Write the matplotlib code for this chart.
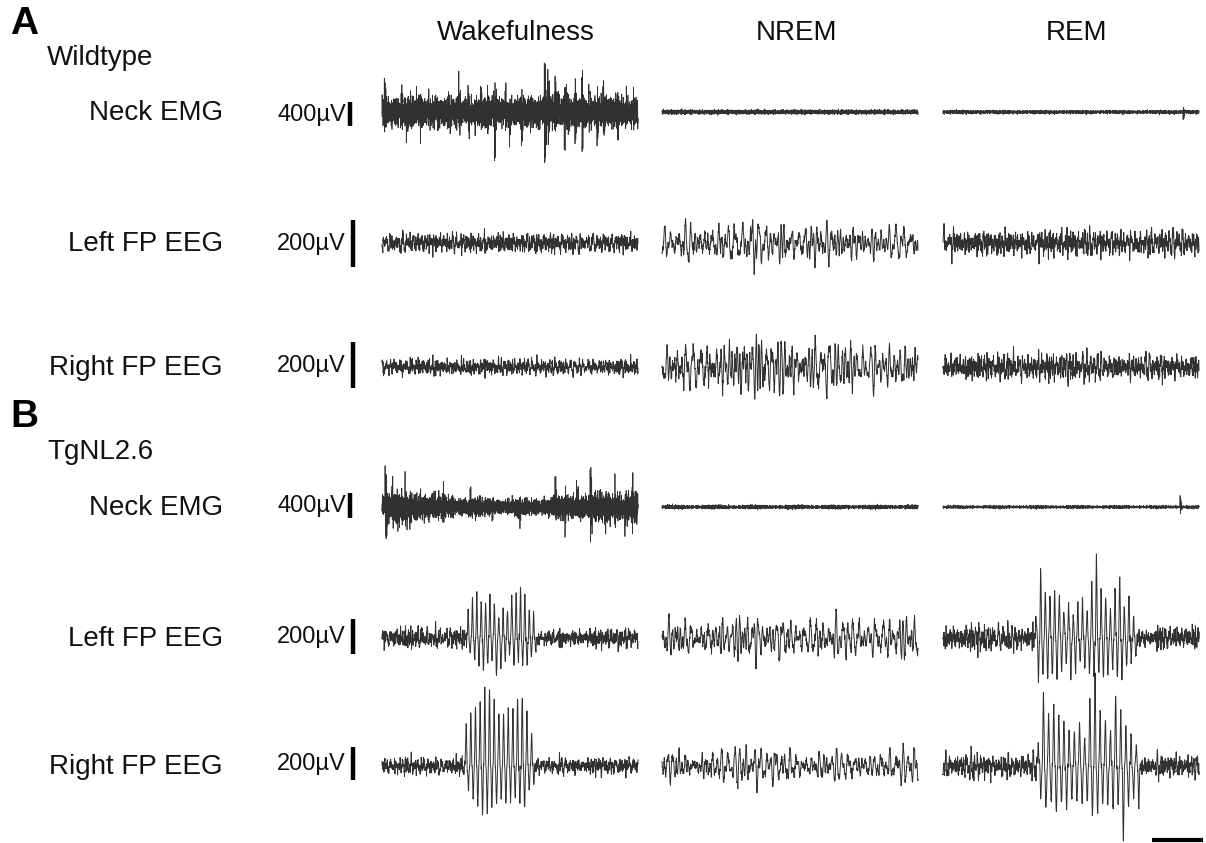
import numpy as np
import matplotlib.pyplot as plt

plt.rcParams['font.family'] = ['Liberation Sans', 'DejaVu Sans']

# ---------------------------------------------------------------
# labels
# ---------------------------------------------------------------
panels = ['A', 'B']
groups = ['Wildtype', 'TgNL2.6']
states = ['Wakefulness', 'NREM', 'REM']
channels = ['Neck EMG', 'Left FP EEG', 'Right FP EEG']
scale_uv = [400, 200, 200]

# px per µV of each row (scale bars are not the same size in A and B)
gain_a = [0.060, 0.235, 0.230]
gain_b = [0.0625, 0.175, 0.165]

trace_sec = 10.0
time_bar_sec = 2.0

# ---------------------------------------------------------------
# peak amplitude envelopes (µV), 10 knots along each 10 s trace
# ---------------------------------------------------------------
a_emg_wake = [360, 370, 340, 350, 340, 360, 390, 370, 360, 360]
a_emg_nrem = [55, 55, 55, 55, 55, 55, 55, 55, 55, 55]
a_emg_rem = [55, 55, 52, 52, 50, 50, 50, 50, 52, 55]
a_left_wake = [60, 62, 60, 65, 62, 60, 65, 60, 60, 62]
a_left_nrem = [105, 110, 120, 135, 130, 115, 105, 100, 100, 105]
a_left_rem = [90, 88, 85, 90, 88, 85, 88, 90, 88, 90]
a_right_wake = [55, 58, 55, 58, 55, 55, 58, 55, 55, 55]
a_right_nrem = [130, 140, 165, 185, 180, 150, 135, 130, 130, 130]
a_right_rem = [90, 90, 88, 90, 90, 88, 90, 90, 88, 90]

b_emg_wake = [360, 340, 280, 230, 200, 200, 240, 320, 350, 370]
b_emg_nrem = [50, 50, 50, 50, 50, 50, 50, 50, 50, 50]
b_emg_rem = [38, 38, 38, 38, 38, 38, 38, 38, 38, 38]
b_left_wake = [100, 100, 95, 95, 95, 95, 95, 95, 100, 100]
b_left_nrem = [180, 195, 185, 175, 175, 185, 175, 175, 180, 190]
b_left_rem = [120, 115, 115, 110, 110, 110, 110, 115, 115, 120]
b_right_wake = [85, 85, 85, 85, 85, 85, 85, 85, 85, 85]
b_right_nrem = [160, 180, 170, 160, 170, 160, 160, 155, 155, 165]
b_right_rem = [125, 120, 120, 120, 115, 115, 120, 120, 120, 125]

# isolated EMG spikes: time (s), amplitude (µV, + = up)
a_emg_wake_spk_t = [0.09, 0.44, 0.44, 0.78, 0.95, 1.34, 1.50, 1.83, 2.10, 2.66, 2.66,
                    3.00, 3.36, 3.64, 3.64, 3.84, 4.12, 4.33, 4.40, 4.81, 4.98, 5.30,
                    5.45, 6.34, 6.36, 6.48, 6.76, 7.12, 7.18, 7.52, 7.54, 7.80, 7.82,
                    8.08, 8.40, 8.63, 9.12, 9.20, 9.54, 9.82, 9.85]
a_emg_wake_spk_uv = [630, 690, -630, 370, -490, 370, -520, 350, 260, 370, -610,
                     580, 430, 490, -750, 430, 370, 290, -780, 370, -490, 320,
                     -460, 780, -920, 780, 660, -610, 580, 400, -550, 660, -630,
                     490, -520, 490, 430, -430, 370, 520, -320]
a_emg_rem_spk_t = [9.38]
a_emg_rem_spk_uv = [-135]
b_emg_wake_spk_t = [0.12, 0.16, 0.39, 0.62, 0.90, 1.09, 1.48, 2.40, 3.44, 4.30, 5.39,
                    6.76, 7.15, 7.60, 8.13, 8.71, 9.10, 9.49, 9.77]
b_emg_wake_spk_uv = [640, -530, 400, -450, 420, -420, 350, 260, 290, -280, -320,
                     600, -400, 380, 650, -450, 400, -480, 450]
b_emg_rem_spk_t = [9.26]
b_emg_rem_spk_uv = [170]

# spike-wave bursts in TgNL2.6 EEG: start/end (s), per-cycle peaks (µV)
b_left_wake_burst = (3.32, 6.05)
b_left_wake_up = [160, 245, 240, 215, 200, 275, 190, 115, 160, 160, 255, 270, 285, 255, 160, 145]
b_left_wake_dn = [105, 125, 145, 180, 160, 125, 215, 180, 125, 85, 145, 125, 145, 160, 105, 85]
b_right_wake_burst = (3.24, 5.98)
b_right_wake_up = [250, 330, 350, 395, 480, 470, 410, 330, 300, 350, 350, 410, 410, 330, 200]
b_right_wake_dn = [150, 195, 230, 290, 300, 275, 230, 195, 230, 210, 195, 230, 250, 150, 100]
b_left_rem_burst = (3.59, 7.58)
b_left_rem_up = [115, 370, 270, 245, 245, 230, 155, 190, 115, 210, 215, 160, 315, 470, 255,
                 240, 145, 275, 330, 170, 245, 115]
b_left_rem_dn = [215, 215, 215, 215, 215, 170, 145, 215, 170, 145, 170, 215, 215, 215, 215,
                 215, 170, 215, 215, 170, 145, 115]
b_right_rem_burst = (3.67, 7.70)
b_right_rem_up = [135, 425, 315, 375, 290, 275, 230, 200, 255, 150, 410, 515, 315, 275, 230,
                  425, 315, 210, 180, 135]
b_right_rem_dn = [180, 275, 210, 290, 230, 275, 210, 210, 230, 210, 290, 275, 230, 230, 275,
                  230, 435, 255, 210, 255]

# shape of one EMG discharge (relative amplitude of successive half-waves)
emg_unit = [1.0, -0.55, 0.75, -0.35, 0.45, -0.2]


def carrier(n, f_lo, f_hi, shift, k=90):
    # deterministic broadband texture (Weyl-sequence phases)
    t = np.linspace(0, 1, n)
    kk = np.arange(k) + 7 * shift
    fr = np.linspace(f_lo, f_hi, k) + ((kk * 0.41421356) % 1) * (f_hi - f_lo) / k
    ph = 2 * np.pi * ((kk ** 3 * 0.7548776662 + kk ** 2 * 0.5698402910 + shift * 0.2360679) % 1)
    amp = 1 / np.sqrt(fr)
    return (amp[:, None] * np.sin(2 * np.pi * fr[:, None] * t[None, :] + ph[:, None])).sum(0)


def texture(n, bands, shift):
    s = np.zeros(n)
    for j, (lo, hi, w) in enumerate(bands):
        c = carrier(n, lo, hi, shift + j * 5)
        s += w * c / c.std()
    return s / np.abs(s).max()


def make_trace(env, n, bands, shift, spk_t=(), spk_uv=(), burst=None, ups=None, dns=None):
    t = np.linspace(0, trace_sec, n)
    knots = np.linspace(0, trace_sec, len(env))
    sig = texture(n, bands, shift) * np.interp(t, knots, env)
    dt = t[1] - t[0]
    for ts, a in zip(spk_t, spk_uv):
        i0 = int(round(ts / dt))
        for j, rel in enumerate(emg_unit):
            i = i0 + j * 9
            for k in range(-3, 4):
                if 0 <= i + k < n:
                    sig[i + k] += a * rel * (1 - abs(k) / 4)
    if burst is not None:
        t0, t1 = burst
        m = (t >= t0) & (t < t1)
        ph = (t[m] - t0) / (t1 - t0) * len(ups)
        idx = np.minimum(ph.astype(int), len(ups) - 1)
        w = np.sin(2 * np.pi * (ph - idx))
        spike = np.abs(w) ** 2.2
        sig[m] = sig[m] * 0.5 + np.where(w > 0, spike * np.array(ups)[idx], -spike * np.array(dns)[idx])
    return t, sig


fig = plt.figure(figsize=(12.06, 8.43), dpi=100)
ax = fig.add_axes([0, 0, 1, 1])
ax.set_xlim(0, 1206)
ax.set_ylim(843, 0)
ax.axis('off')

col_x0 = [382, 662, 943]
col_w = 256
row_y = [[112, 243, 367], [507, 638, 766]]
bar_y = [[114, 243, 365], [505, 636, 763]]
bar_x = [350, 353, 353]

# frequency bands (cycles per trace, weight)
emg_bands = [(150, 1500, 1.0)]
eeg_bands = [
    [(40, 300, 1.0), (300, 800, 0.45)],    # wake
    [(30, 110, 1.0), (150, 600, 0.22)],    # NREM
    [(45, 260, 1.0), (260, 800, 0.40)],    # REM
]

data = [
    [[a_emg_wake, a_emg_nrem, a_emg_rem],
     [a_left_wake, a_left_nrem, a_left_rem],
     [a_right_wake, a_right_nrem, a_right_rem]],
    [[b_emg_wake, b_emg_nrem, b_emg_rem],
     [b_left_wake, b_left_nrem, b_left_rem],
     [b_right_wake, b_right_nrem, b_right_rem]],
]
spikes = {(0, 0): (a_emg_wake_spk_t, a_emg_wake_spk_uv),
          (0, 2): (a_emg_rem_spk_t, a_emg_rem_spk_uv),
          (1, 0): (b_emg_wake_spk_t, b_emg_wake_spk_uv),
          (1, 2): (b_emg_rem_spk_t, b_emg_rem_spk_uv)}
bursts = {(1, 1, 0): (b_left_wake_burst, b_left_wake_up, b_left_wake_dn),
          (1, 2, 0): (b_right_wake_burst, b_right_wake_up, b_right_wake_dn),
          (1, 1, 2): (b_left_rem_burst, b_left_rem_up, b_left_rem_dn),
          (1, 2, 2): (b_right_rem_burst, b_right_rem_up, b_right_rem_dn)}

for p, gains in enumerate([gain_a, gain_b]):
    for r in range(3):
        for c in range(3):
            env = data[p][r][c]
            shift = p * 9 + r * 3 + c + 1
            if r == 0:
                st, su = spikes.get((p, c), ((), ()))
                t, sig = make_trace(env, 6000, emg_bands, shift, st, su)
                lw = 0.55
            else:
                b = bursts.get((p, r, c))
                if b:
                    t, sig = make_trace(env, 3000, eeg_bands[c], shift, burst=b[0], ups=b[1], dns=b[2])
                else:
                    t, sig = make_trace(env, 3000, eeg_bands[c], shift)
                lw = 0.7
            ax.plot(col_x0[c] + t / trace_sec * col_w, row_y[p][r] - sig * gains[r],
                    color='#1a1a1a', lw=lw, alpha=0.9)
        # scale bar + labels
        h = scale_uv[r] * gains[r]
        yc = bar_y[p][r]
        ax.plot([bar_x[r], bar_x[r]], [yc - h / 2, yc + h / 2], color='black', lw=3.2,
                solid_capstyle='butt')
        ax.text(346, yc + 1, f'{scale_uv[r]}µV', ha='right', va='center', fontsize=17, color='#111111')
        ax.text(223, row_y[p][r] + 1, channels[r], ha='right', va='center', fontsize=20, color='#111111')

# panel letters and group names
ax.text(10, 24, panels[0], ha='left', va='center', fontsize=28, fontweight='bold')
ax.text(10, 417, panels[1], ha='left', va='center', fontsize=28, fontweight='bold')
ax.text(47, 58, groups[0], ha='left', va='center', fontsize=20, color='#111111')
ax.text(47, 452, groups[1], ha='left', va='center', fontsize=20, color='#111111')

# state titles
for c, s in enumerate(states):
    ax.text(col_x0[c] + col_w / 2 + 6, 33, s, ha='center', va='center', fontsize=20, color='#111111')

# time scale bar
tb = time_bar_sec / trace_sec * col_w
ax.plot([1152, 1152 + tb], [840, 840], color='black', lw=3, solid_capstyle='butt')

fig.savefig('out.png', dpi=100)
